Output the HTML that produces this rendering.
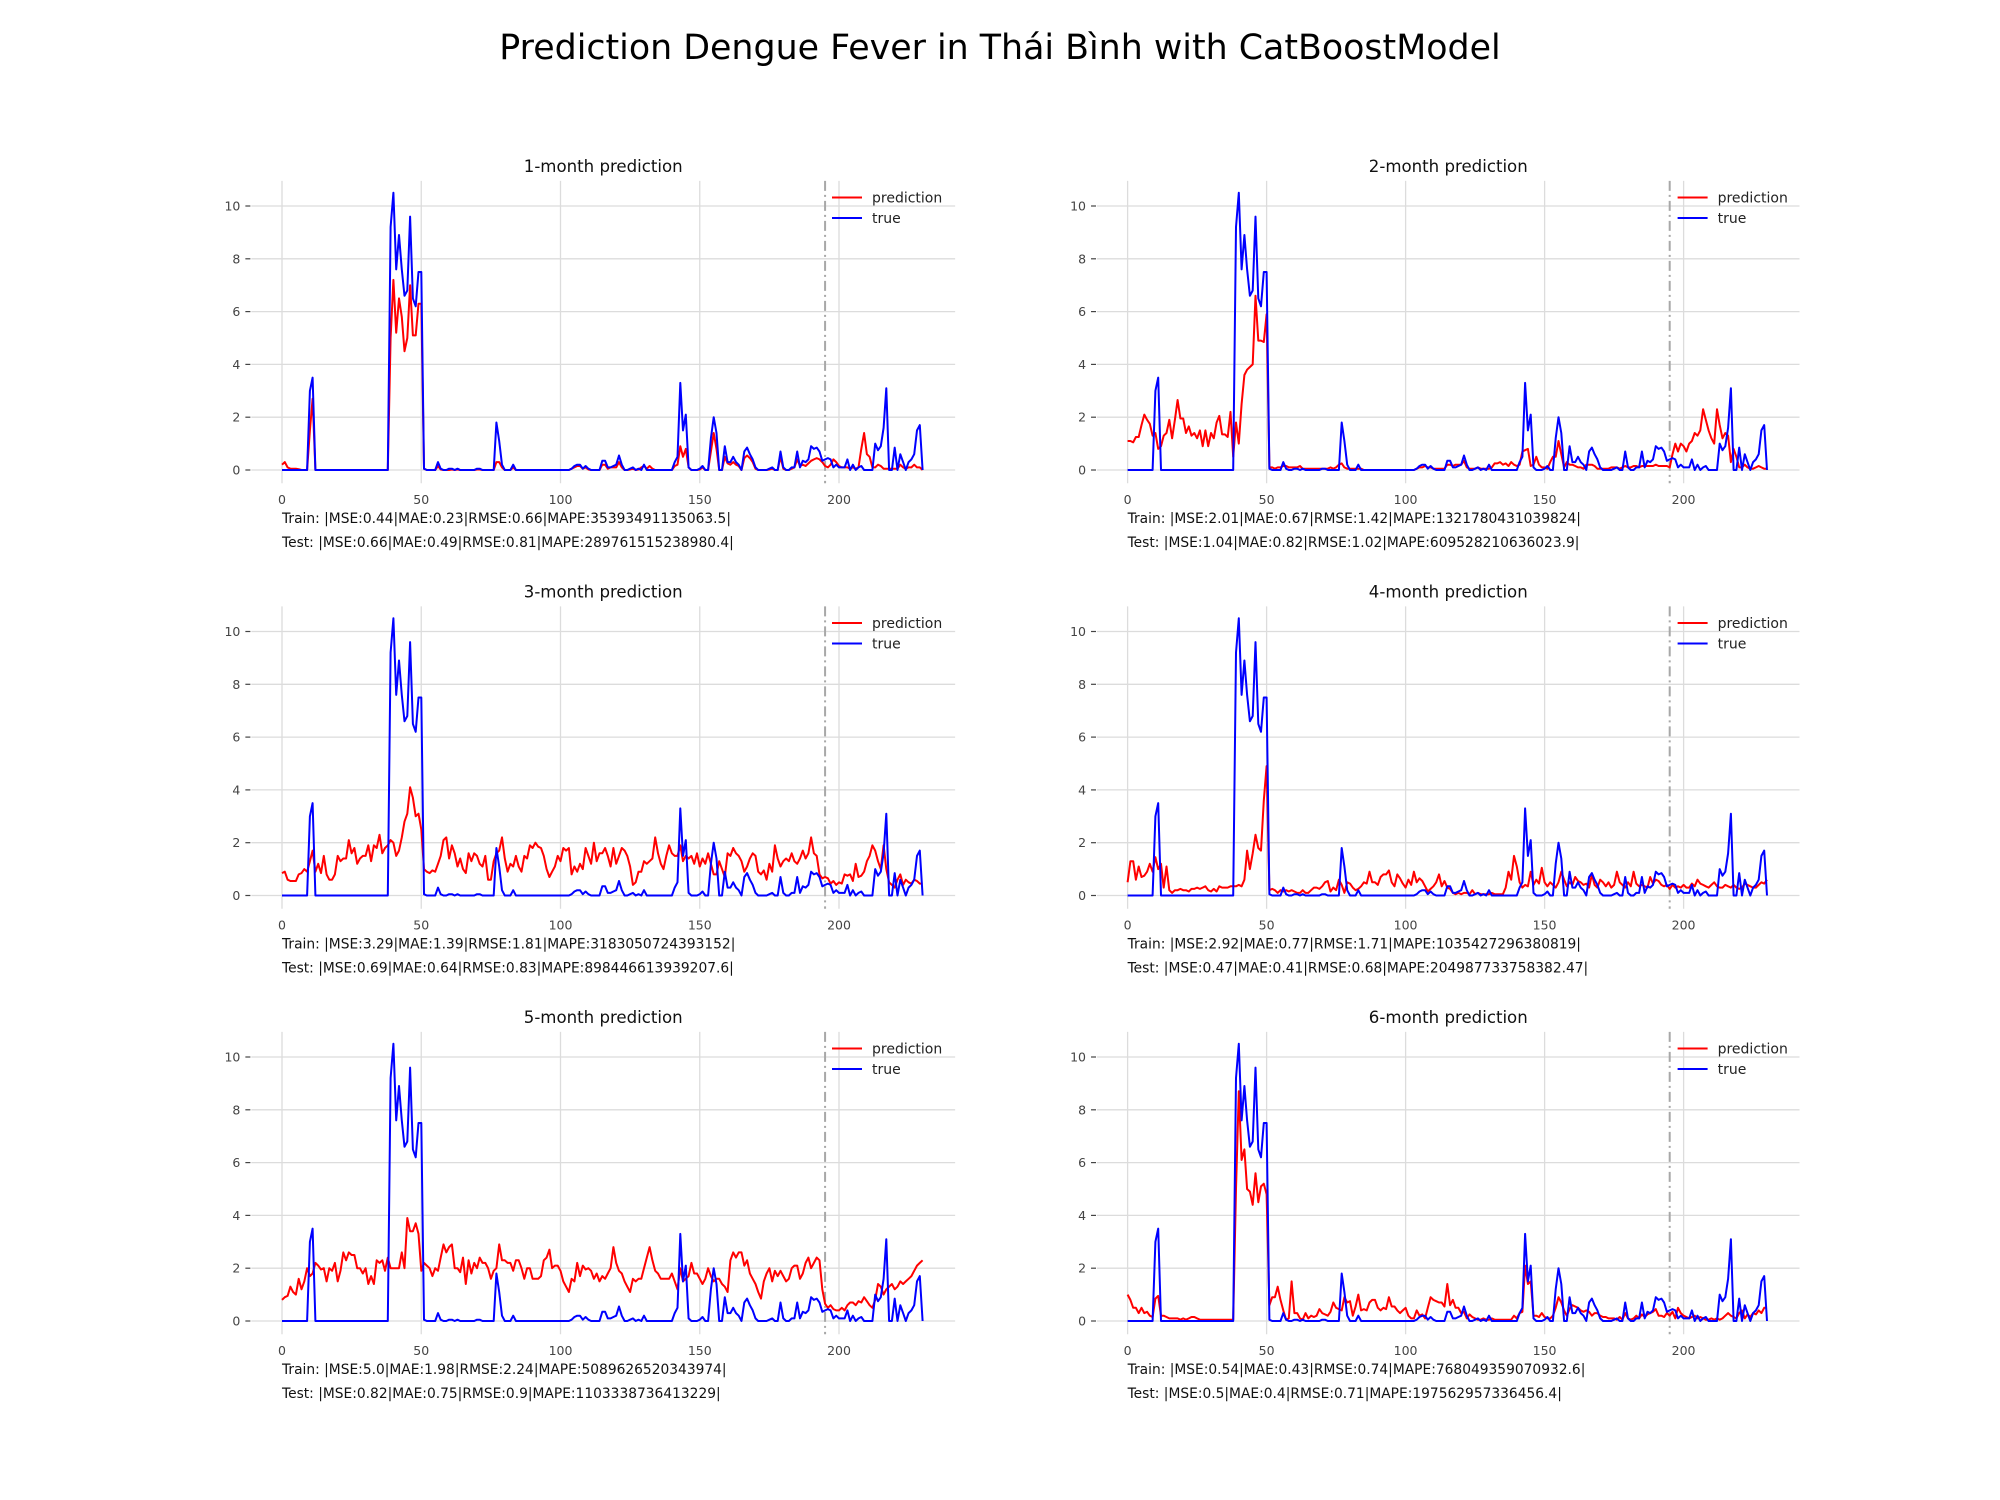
<!DOCTYPE html>
<html><head><meta charset="utf-8"><style>
html,body{margin:0;padding:0;background:#fff;}
svg{display:block;font-family:"DejaVu Sans","Liberation Sans",sans-serif;}
</style></head><body>
<svg id="fig" width="2000" height="1500" viewBox="0 0 2000 1500" xmlns="http://www.w3.org/2000/svg">
<rect width="2000" height="1500" fill="#fff"/>
<text x="1000" y="59" text-anchor="middle" font-size="34.8" fill="#000">Prediction Dengue Fever in Thái Bình with CatBoostModel</text>
</svg>
<script>
const trueVals=[0,0,0,0,0,0,0,0,0,0,
3.0,3.5,0,0,0,0,0,0,0,0,
0,0,0,0,0,0,0,0,0,0,
0,0,0,0,0,0,0,0,0,9.2,
10.5,7.6,8.9,7.6,6.6,6.8,9.6,6.5,6.2,7.5,
7.5,0.05,0,0,0,0,0.3,0.05,0,0,
0.05,0.05,0,0.05,0,0,0,0,0,0,
0.05,0.05,0,0,0,0,0,1.8,1.1,0.2,
0,0,0,0.2,0,0,0,0,0,0,
0,0,0,0,0,0,0,0,0,0,
0,0,0,0,0.05,0.15,0.2,0.2,0.05,0.15,
0.05,0,0,0,0,0.35,0.35,0.1,0.1,0.15,
0.2,0.55,0.2,0,0,0.05,0.1,0,0.05,0,
0.2,0,0,0,0,0,0,0,0,0,
0,0.3,0.5,3.3,1.5,2.1,0.1,0,0,0,
0.05,0.15,0,0,1.2,2.0,1.4,0,0,0.9,
0.3,0.3,0.5,0.3,0.2,0,0.7,0.85,0.6,0.4,
0.1,0,0,0,0,0.05,0.1,0,0,0.7,
0.1,0,0,0.1,0.1,0.7,0.1,0.35,0.3,0.4,
0.9,0.8,0.85,0.7,0.35,0.4,0.45,0.4,0.1,0.2,
0.1,0.1,0.1,0.4,0,0.2,0,0.1,0.15,0,
0,0,0,1.0,0.75,0.9,1.6,3.1,0,0,
0.85,0,0.6,0.3,0,0.3,0.4,0.6,1.5,1.7,
0];
const pred1=[0.2,0.3,0.1,0.05,0.05,0.05,0.03,0,0,0,
1.5,2.7,0,0,0,0,0,0,0,0,
0,0,0,0,0,0,0,0,0,0,
0,0,0,0,0,0,0,0,0,5.0,
7.2,5.2,6.5,5.8,4.5,5.0,7.0,5.1,5.1,6.3,
6.3,0.05,0,0,0,0,0.15,0.02,0,0,
0,0.02,0,0.02,0,0,0,0,0,0,
0.02,0.02,0,0,0,0,0,0.3,0.3,0.1,
0,0,0,0.1,0,0,0,0,0,0,
0,0,0,0,0,0,0,0,0,0,
0,0,0,0,0.05,0.1,0.15,0.15,0.05,0.1,
0.02,0,0,0,0,0.2,0.2,0.05,0.1,0.1,
0.1,0.3,0.1,0,0,0.02,0.05,0,0.02,0.1,
0.15,0.05,0.15,0.05,0,0,0,0,0,0,
0,0.15,0.2,0.9,0.5,0.8,0.1,0,0,0,
0.02,0.1,0,0,0.7,1.4,0.8,0,0,0.5,
0.25,0.2,0.3,0.2,0.15,0,0.45,0.55,0.45,0.3,
0.05,0,0,0,0,0.02,0.05,0,0,0.5,
0.05,0,0,0.05,0.1,0.4,0.15,0.2,0.15,0.25,
0.35,0.4,0.45,0.4,0.3,0.15,0.1,0.2,0.4,0.3,
0.15,0.1,0.1,0.1,0.05,0.1,0.05,0.1,0.8,1.4,
0.6,0.5,0.1,0.1,0.2,0.15,0.05,0.05,0.05,0.05,
0.05,0.05,0.2,0.1,0.05,0.1,0.1,0.2,0.1,0.1,
0];
const pred2=[1.1,1.1,1.05,1.25,1.25,1.7,2.1,1.9,1.75,1.3,
1.4,0.8,0.9,1.3,1.4,1.9,1.2,1.9,2.65,1.95,
1.95,1.4,1.65,1.3,1.4,1.2,1.5,0.9,1.5,0.9,
1.4,1.2,1.8,2.05,1.35,1.35,1.25,2.2,0.5,1.8,
1.0,2.5,3.6,3.8,3.9,4.0,6.6,4.9,4.9,4.85,
5.9,0.1,0.1,0.05,0.1,0.1,0.15,0.15,0.1,0.1,
0.1,0.1,0.15,0.05,0.05,0.05,0.05,0.05,0.05,0.05,
0.05,0.05,0.05,0.1,0.05,0.1,0.2,0.25,0.1,0.05,
0.05,0.05,0.05,0.05,0.05,0,0,0,0,0,
0,0,0,0,0,0,0,0,0,0,
0,0,0,0,0.05,0.1,0.1,0.15,0.1,0.1,
0.05,0.05,0.05,0.05,0.05,0.2,0.2,0.15,0.2,0.2,
0.2,0.35,0.1,0.05,0.05,0.05,0.1,0.05,0.05,0.05,
0.05,0.1,0.25,0.25,0.3,0.2,0.25,0.15,0.3,0.2,
0.15,0.2,0.7,0.75,0.8,0.15,0.2,0.5,0.2,0.1,
0.1,0.05,0.3,0.5,0.5,1.1,0.6,0.1,0.3,0.2,
0.2,0.15,0.1,0.1,0.05,0.2,0.2,0.2,0.15,0.05,
0.05,0.05,0.05,0.05,0.1,0.1,0.1,0.05,0.1,0.15,
0.1,0.1,0.15,0.15,0.1,0.15,0.15,0.15,0.15,0.15,
0.2,0.15,0.15,0.15,0.15,0.1,0.6,1.0,0.7,1.0,
0.9,0.7,1.0,1.1,1.4,1.3,1.5,2.3,1.9,1.5,
1.2,1.0,2.3,1.7,1.2,1.4,1.3,0.3,0.8,0.5,
0.1,0.1,0.2,0.1,0.05,0.05,0.1,0.15,0.1,0.05,
0.05];
const pred3=[0.85,0.9,0.6,0.55,0.55,0.55,0.8,0.85,1.0,0.9,
1.3,1.7,0.9,1.2,0.85,1.5,0.8,0.6,0.6,0.8,
1.5,1.3,1.4,1.4,2.1,1.6,1.8,1.2,1.4,1.5,
1.5,1.9,1.3,1.9,1.8,2.3,1.6,1.8,1.9,2.1,
2.0,1.5,1.7,2.2,2.8,3.1,4.1,3.7,3.0,3.1,
2.5,1.0,0.9,0.85,0.95,0.9,1.2,1.5,2.1,2.2,
1.4,1.9,1.6,1.1,1.4,1.0,0.85,1.6,1.3,1.6,
1.5,1.2,1.1,1.5,0.6,0.6,1.3,1.6,1.7,2.2,
1.4,0.9,1.2,1.1,1.5,1.1,0.9,1.5,1.4,1.9,
1.8,2.0,1.85,1.8,1.5,1.0,0.7,0.9,1.1,1.5,
1.3,1.8,1.7,1.8,0.8,1.1,0.9,1.2,1.0,1.8,
1.5,1.2,2.0,1.3,1.6,1.6,1.8,1.5,1.1,1.8,
1.2,1.5,1.8,1.7,1.5,1.1,0.4,0.5,0.9,0.9,
1.3,1.2,1.3,1.4,2.2,1.6,1.2,1.0,1.5,1.9,
1.6,1.5,1.5,1.9,1.3,1.5,1.4,1.5,1.2,1.6,
1.1,1.4,1.2,1.6,1.2,0.8,0.8,1.3,1.0,0.7,
1.6,1.5,1.8,1.6,1.5,1.3,0.9,1.1,1.4,1.6,
1.5,0.9,0.8,0.95,0.6,1.2,0.9,1.9,1.4,1.1,
1.3,1.4,1.3,1.6,1.3,1.2,1.4,1.7,1.4,1.6,
2.2,1.6,1.5,0.8,0.65,0.7,0.65,0.45,0.55,0.4,
0.5,0.45,0.8,0.75,0.8,0.55,1.2,0.7,0.75,0.9,
1.3,1.5,1.9,1.7,1.3,1.0,1.9,1.0,0.5,0.4,
0.3,0.6,0.8,0.4,0.6,0.5,0.45,0.6,0.55,0.45,
0.45];
const pred4=[0.5,1.3,1.3,0.6,1.1,0.7,0.75,0.9,1.2,0.9,
1.45,1.0,1.2,0.3,1.1,0.2,0.1,0.2,0.2,0.25,
0.2,0.2,0.15,0.25,0.25,0.3,0.25,0.3,0.35,0.2,
0.15,0.25,0.15,0.35,0.3,0.3,0.3,0.35,0.35,0.35,
0.4,0.35,0.6,1.7,1.0,1.6,2.3,1.8,1.7,3.6,
4.9,0.2,0.25,0.2,0.1,0.2,0.15,0.2,0.15,0.2,
0.15,0.1,0.1,0.2,0.1,0.1,0.2,0.3,0.3,0.25,
0.35,0.5,0.55,0.15,0.3,0.2,0.6,0.4,0.1,0.5,
0.45,0.3,0.2,0.25,0.35,0.5,0.45,0.9,0.5,0.5,
0.4,0.7,0.8,0.8,0.95,0.5,0.35,0.8,0.65,0.45,
0.3,0.6,0.4,0.9,0.5,0.65,0.55,0.35,0.15,0.25,
0.35,0.5,0.8,0.35,0.55,0.3,0.25,0.1,0.05,0.1,
0.05,0.1,0.1,0.05,0.2,0.05,0.1,0.05,0.05,0.05,
0.05,0.1,0.05,0.05,0.05,0.05,0.3,0.9,0.6,1.5,
1.1,0.5,0.3,0.4,0.35,0.9,0.4,0.6,0.45,1.05,
0.5,0.35,0.5,0.4,0.3,0.5,0.9,0.6,0.35,0.5,
0.4,0.7,0.55,0.5,0.4,0.45,0.3,0.8,0.4,0.3,
0.6,0.5,0.35,0.5,0.3,0.4,0.9,0.5,0.4,0.3,
0.5,0.35,0.9,0.45,0.35,0.4,0.35,0.3,0.7,0.45,
0.6,0.55,0.4,0.35,0.4,0.25,0.4,0.3,0.35,0.3,
0.4,0.3,0.3,0.45,0.35,0.6,0.45,0.4,0.35,0.3,
0.4,0.5,0.35,0.3,0.3,0.4,0.35,0.3,0.4,0.3,
0.25,0.3,0.45,0.4,0.35,0.3,0.3,0.4,0.5,0.45,
0.6];
const pred5=[0.8,0.9,0.95,1.3,1.1,1.0,1.6,1.2,1.5,2.0,
1.7,1.8,2.2,2.1,1.95,2.0,1.5,2.0,1.9,2.2,
1.5,1.9,2.6,2.3,2.6,2.5,2.5,2.0,2.0,1.8,
2.0,1.4,1.7,1.4,2.3,2.2,2.3,1.9,2.4,2.0,
2.0,2.0,2.0,2.6,2.0,3.9,3.4,3.4,3.7,3.3,
1.9,2.2,2.1,2.0,1.7,2.0,1.9,2.4,2.9,2.6,
2.8,2.9,2.0,2.0,1.85,2.4,1.4,2.3,1.8,2.2,
2.0,2.4,2.2,2.2,2.0,1.6,1.9,2.0,2.9,2.3,
2.3,2.2,2.2,1.9,2.3,2.3,2.0,1.6,2.0,2.0,
1.6,1.6,1.6,1.7,2.3,2.4,2.7,2.0,2.1,2.1,
1.9,1.5,1.3,1.1,1.6,1.5,2.2,1.7,2.1,1.95,
2.0,1.9,1.6,1.8,1.5,1.7,1.6,1.8,2.0,2.8,
2.2,1.9,1.8,1.5,1.3,1.1,1.6,1.5,1.6,1.6,
2.0,2.4,2.8,2.3,1.9,1.8,1.6,1.6,1.6,1.6,
1.8,1.5,1.2,2.0,1.5,1.6,1.7,2.2,1.8,1.8,
1.6,1.4,1.6,2.0,1.7,1.5,1.6,1.6,1.4,1.3,
1.1,2.3,2.6,2.4,2.6,2.6,2.1,2.3,1.8,1.6,
1.4,1.1,0.85,1.5,1.8,2.0,1.5,1.9,1.7,1.9,
1.7,1.5,1.6,2.0,2.1,2.1,1.6,1.8,2.2,2.4,
2.0,2.2,2.4,2.3,1.2,0.65,0.5,0.6,0.45,0.4,
0.4,0.5,0.4,0.6,0.7,0.7,0.6,0.75,0.7,0.9,
0.75,0.6,0.5,0.8,1.4,1.3,1.0,1.2,1.3,1.4,
1.2,1.3,1.5,1.4,1.5,1.6,1.7,1.9,2.1,2.2,
2.3];
const pred6=[1.0,0.8,0.5,0.5,0.3,0.5,0.3,0.35,0.2,0.15,
0.85,0.95,0.2,0.2,0.15,0.1,0.1,0.1,0.1,0.05,
0.1,0.05,0.1,0.15,0.15,0.1,0.05,0.05,0.05,0.05,
0.05,0.05,0.05,0.05,0.05,0.05,0.05,0.05,0.05,5.0,
8.7,6.1,6.5,5.0,4.9,4.4,5.6,4.5,5.1,5.2,
4.8,0.6,0.9,0.9,1.3,0.8,0.4,0.05,0.1,1.5,
0.3,0.3,0.1,0.05,0.3,0.1,0.2,0.15,0.2,0.45,
0.3,0.25,0.2,0.35,0.7,0.5,0.45,0.4,0.9,0.7,
0.75,0.2,0.55,1.0,0.4,0.45,0.4,0.7,0.8,0.8,
0.5,0.4,0.5,0.45,0.9,0.55,0.55,0.4,0.3,0.4,
0.5,0.2,0.1,0.1,0.4,0.2,0.25,0.1,0.5,0.9,
0.8,0.75,0.7,0.7,0.55,1.4,0.6,0.8,0.5,0.5,
0.3,0.35,0.1,0.25,0.15,0.1,0.05,0.05,0.1,0.05,
0.05,0.1,0.05,0.05,0.05,0.05,0.05,0.05,0.05,0.2,
0.1,0.3,0.35,2.1,1.4,1.5,0.2,0.2,0.15,0.3,
0.15,0.1,0.1,0.2,0.5,0.9,0.7,0.4,0.2,0.45,
0.6,0.55,0.5,0.4,0.35,0.4,0.35,0.2,0.3,0.3,
0.2,0.15,0.15,0.1,0.1,0.1,0.05,0.15,0.05,0.3,
0.1,0.05,0.1,0.2,0.1,0.25,0.15,0.25,0.3,0.35,
0.45,0.2,0.2,0.15,0.3,0.2,0.35,0.1,0.5,0.3,
0.2,0.15,0.1,0.15,0.2,0.1,0.15,0.1,0.05,0.05,
0.1,0.05,0.1,0.05,0.1,0.2,0.3,0.2,0.15,0.1,
0.3,0.4,0.1,0.25,0.15,0.3,0.25,0.4,0.3,0.5,
0.5];
const panelTitles=["1-month prediction","2-month prediction","3-month prediction","4-month prediction","5-month prediction","6-month prediction"];
const trainMetrics=["Train: |MSE:0.44|MAE:0.23|RMSE:0.66|MAPE:35393491135063.5|","Train: |MSE:2.01|MAE:0.67|RMSE:1.42|MAPE:1321780431039824|","Train: |MSE:3.29|MAE:1.39|RMSE:1.81|MAPE:3183050724393152|","Train: |MSE:2.92|MAE:0.77|RMSE:1.71|MAPE:1035427296380819|","Train: |MSE:5.0|MAE:1.98|RMSE:2.24|MAPE:5089626520343974|","Train: |MSE:0.54|MAE:0.43|RMSE:0.74|MAPE:768049359070932.6|"];
const testMetrics=["Test: |MSE:0.66|MAE:0.49|RMSE:0.81|MAPE:289761515238980.4|","Test: |MSE:1.04|MAE:0.82|RMSE:1.02|MAPE:609528210636023.9|","Test: |MSE:0.69|MAE:0.64|RMSE:0.83|MAPE:898446613939207.6|","Test: |MSE:0.47|MAE:0.41|RMSE:0.68|MAPE:204987733758382.47|","Test: |MSE:0.82|MAE:0.75|RMSE:0.9|MAPE:1103338736413229|","Test: |MSE:0.5|MAE:0.4|RMSE:0.71|MAPE:197562957336456.4|"];
const xTicks=[0,50,100,150,200];
const yTicks=[0,2,4,6,8,10];
const splitIndex=195;
const preds=[pred1,pred2,pred3,pred4,pred5,pred6];

const NS="http://www.w3.org/2000/svg";
const svg=document.getElementById('fig');
function mk(tag,attrs,parent){const e=document.createElementNS(NS,tag);for(const k in attrs)e.setAttribute(k,attrs[k]);(parent||svg).appendChild(e);return e;}

for(let p=0;p<6;p++){
  const col=p%2,row=Math.floor(p/2);
  const x0=col===0?282:1127.6, xu=col===0?2.785:2.78;
  const y0=470+row*425.5, yu=26.4;
  const X=v=>x0+v*xu, Y=v=>y0-v*yu;
  const g=mk('g',{});
  
  
  const L=X(-11), R=X(241.7), T=Y(10.95), B=Y(-0.5);
  yTicks.forEach(t=>{
    const l=mk('line',{x1:L,x2:R,y1:Y(t),y2:Y(t),stroke:'#dcdcdc','stroke-width':1.3},g);
    
    
    mk('line',{x1:L-6,x2:L-1,y1:Y(t),y2:Y(t),stroke:'#444','stroke-width':1.2},g);
    const tx=mk('text',{x:L-11,y:Y(t)+4.5,'text-anchor':'end','font-size':12.5,fill:'#444'},g);
    tx.textContent=t;
    
    
  });
  xTicks.forEach(t=>{
    const l=mk('line',{x1:X(t),x2:X(t),y1:T,y2:B,stroke:'#dcdcdc','stroke-width':1.3},g);
    
    
    const tx=mk('text',{x:X(t),y:y0+34,'text-anchor':'middle','font-size':12.5,fill:'#444'},g);
    tx.textContent=t;
    
    
  });
  const sl=mk('line',{x1:X(splitIndex),x2:X(splitIndex),y1:T,y2:B,stroke:'#a8a8a8','stroke-width':2,'stroke-dasharray':'10,4,2,4'},g);
  
  
  const mkLine=(arr,color,name)=>{
    const d=arr.map((v,i)=>(i?'L':'M')+X(i).toFixed(1)+','+Y(v).toFixed(1)).join('');
    const pa=mk('path',{d:d,fill:'none',stroke:color,'stroke-width':2,'stroke-linejoin':'round'},g);
    
    
  };
  mkLine(preds[p],'#ff0000','prediction-line');
  mkLine(trueVals,'#0000ff','true-line');
  const ti=mk('text',{x:(L+R)/2,y:Y(10.95)-9,'text-anchor':'middle','font-size':16.6,fill:'#111'},g);
  ti.textContent=panelTitles[p];
  
  
  const lx=x0+550, ly=Y(10)-8.5;
  const lg=mk('g',{},g);
  
  
  [['prediction','#ff0000'],['true','#0000ff']].forEach((e,i)=>{
    mk('line',{x1:lx,x2:lx+30,y1:ly+i*20.5,y2:ly+i*20.5,stroke:e[1],'stroke-width':2},lg);
    const t=mk('text',{x:lx+40,y:ly+i*20.5+5,'font-size':14,fill:'#222'},lg);
    t.textContent=e[0];
    
    
  });
  const tr=mk('text',{x:x0,y:y0+53,'font-size':13.8,fill:'#111'},g);
  tr.textContent=trainMetrics[p];
  
  
  const te=mk('text',{x:x0,y:y0+77,'font-size':13.8,fill:'#111'},g);
  te.textContent=testMetrics[p];
  
  
}
</script>
</body></html>
